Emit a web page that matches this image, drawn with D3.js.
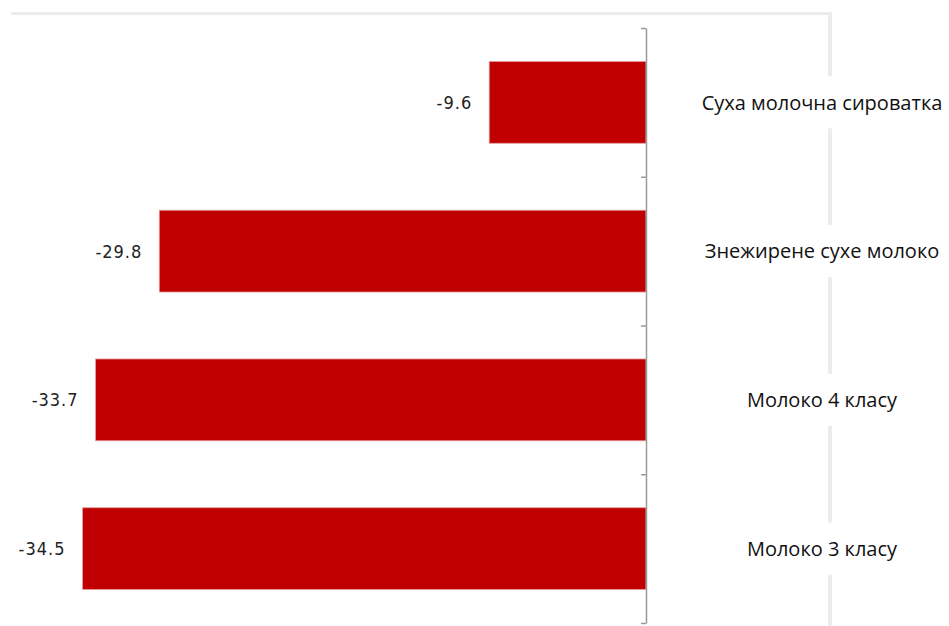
<!DOCTYPE html>
<html>
<head>
<meta charset="utf-8">
<script src="https://cdnjs.cloudflare.com/ajax/libs/d3/7.8.5/d3.min.js"></script>
<style>
  body { margin: 0; background: #fff; }
  svg { display: block; }
</style>
</head>
<body>
<svg class="chart"></svg>
<script>
// data
var categories = ["Суха молочна сироватка", "Знежирене сухе молоко", "Молоко 4 класу", "Молоко 3 класу"];
var values = [-9.6, -29.8, -33.7, -34.5];

var width = 949, height = 626;

var svg = d3.select(".chart")
    .attr("width", width)
    .attr("height", height);

// scales
var x = d3.scaleLinear().domain([-36, 0]).range([58, 646]);
var y = d3.scaleBand().domain(categories).range([28, 623])
    .paddingInner(0.45).paddingOuter(0.225);
// band boundaries for the axis ticks
var yb = d3.scaleLinear().domain([0, categories.length]).range([28, 623]);

// light frame: top line and right divider
svg.append("line")
    .attr("x1", 11).attr("x2", 832)
    .attr("y1", 13.5).attr("y2", 13.5)
    .style("stroke", "#ececec").style("stroke-width", 3);

svg.append("line")
    .attr("x1", 830).attr("x2", 830)
    .attr("y1", 12).attr("y2", height)
    .style("stroke", "#ececec").style("stroke-width", 4);

// bars
svg.selectAll(".bar")
    .data(values)
    .enter().append("rect")
    .attr("class", "bar")
    .attr("x", function(d) { return x(d); })
    .attr("y", function(d, i) { return y(categories[i]); })
    .attr("width", function(d) { return x(0) - x(d); })
    .attr("height", y.bandwidth())
    .style("fill", "#c00000")
    .style("stroke", "#e7a0a0")
    .style("stroke-width", 0.8);

// axis at zero
var axis = svg.append("g")
    .attr("transform", "translate(" + x(0) + ",0)")
    .call(d3.axisLeft(yb).tickValues(d3.range(categories.length + 1))
        .tickFormat("").tickSize(5).tickSizeOuter(0));
axis.select(".domain").style("stroke", "#9a9a9a").style("stroke-width", 1.5);
axis.selectAll(".tick line").style("stroke", "#9a9a9a").style("stroke-width", 1.5);

// value labels
svg.selectAll(".val")
    .data(values)
    .enter().append("text")
    .attr("class", "val")
    .attr("x", function(d) { return x(d) - 17; })
    .attr("y", function(d, i) { return y(categories[i]) + y.bandwidth() / 2; })
    .attr("dy", "0.36em")
    .attr("text-anchor", "end")
    .style("font-family", "'DejaVu Sans Condensed', 'DejaVu Sans', sans-serif")
    .style("font-size", "18px")
    .style("letter-spacing", "1px")
    .style("fill", "#222")
    .text(function(d) { return d.toFixed(1); });

// category labels, with a white gap cut into the divider behind them
var cx = 822;
svg.selectAll(".gap")
    .data(categories)
    .enter().append("rect")
    .attr("class", "gap")
    .attr("x", 825).attr("width", 10)
    .attr("y", function(d) { return y(d) + y.bandwidth() / 2 - 26; })
    .attr("height", 52)
    .style("fill", "#fff");

svg.selectAll(".cat")
    .data(categories)
    .enter().append("text")
    .attr("class", "cat")
    .attr("x", cx)
    .attr("y", function(d) { return y(d) + y.bandwidth() / 2; })
    .attr("dy", "0.36em")
    .attr("text-anchor", "middle")
    .style("font-family", "'Open Sans', sans-serif")
    .style("font-size", "20px")
    .style("fill", "#111")
    .text(function(d) { return d; });
</script>
</body>
</html>
